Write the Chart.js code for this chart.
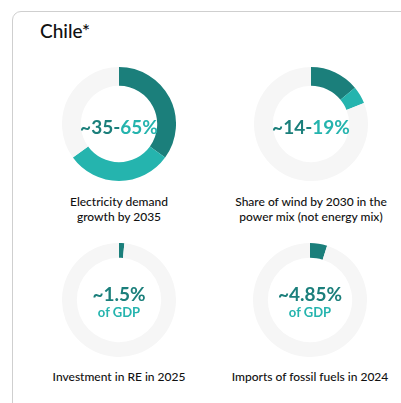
<!DOCTYPE html>
<html><head><meta charset="utf-8">
<script src="https://cdn.jsdelivr.net/npm/chart.js@4"></script>
<style>
html,body{margin:0;padding:0;background:#fff;width:401px;height:403px;overflow:hidden;font-family:Lato,"Open Sans",sans-serif;}
.card{position:absolute;left:12px;top:11px;width:420px;height:420px;border:1px solid #cfcfcf;border-radius:9px;box-sizing:border-box;}
.title{position:absolute;left:40px;top:19px;font-size:19px;color:#111;font-weight:500;}
canvas{position:absolute;}
.center{position:absolute;width:120px;text-align:center;font-weight:700;line-height:1;}
.big{font-size:19px;}
.sub{font-size:13px;color:#25b4ae;margin-top:3px;}
.dark{color:#1b7f7b;} .light{color:#25b4ae;}
.label{position:absolute;width:190px;text-align:center;font-size:12px;color:#111;line-height:15px;font-weight:500;}
</style></head>
<body>
<div class="card"></div>
<div class="title">Chile*</div>
<script>
const categories = ["Electricity demand\ngrowth by 2035", "Share of wind by 2030 in the\npower mix (not energy mix)", "Investment in RE in 2025", "Imports of fossil fuels in 2024"];
const lowValues = [35, 14, 1.5, 4.85];
const highValues = [65, 19, null, null];
const lowLabels = ["~35-", "~14-", "~1.5%", "~4.85%"];
const highLabels = ["65%", "19%", "", ""];
const subLabels = ["", "", "of GDP", "of GDP"];

const centers = [[119,124],[311,124],[119,300],[310,300]];
const cutouts = ['67%','67%','74%','74%'];
const labelY = [194, 194, 369, 369];
const R = 57;
centers.forEach((c, i) => {
  const cv = document.createElement('canvas');
  cv.width = 2*R; cv.height = 2*R;
  cv.style.left = (c[0]-R)+'px'; cv.style.top = (c[1]-R)+'px';
  document.body.appendChild(cv);
  const lo = lowValues[i], hi = highValues[i];
  const data = hi == null ? [lo, 100-lo] : [lo, hi-lo, 100-hi];
  const colors = hi == null ? ['#1b7f7b','#f6f6f6'] : ['#1b7f7b','#25b4ae','#f6f6f6'];
  new Chart(cv, {
    type:'doughnut',
    data:{datasets:[{data, backgroundColor:colors, borderWidth:0, hoverOffset:0}]},
    options:{responsive:false, animation:false, cutout:cutouts[i], layout:{padding:0},
      plugins:{legend:{display:false}, tooltip:{enabled:false}}}
  });
  const t = document.createElement('div');
  t.className='center';
  t.style.left=(c[0]-60)+'px';
  const hasSub = subLabels[i] !== "";
  t.style.top = (c[1] - (hasSub ? 16 : 7)) + 'px';
  t.innerHTML = '<div class="big"><span class="dark">'+lowLabels[i]+'</span><span class="light">'+highLabels[i]+'</span></div>' + (hasSub ? '<div class="sub">'+subLabels[i]+'</div>' : '');
  document.body.appendChild(t);
  const l = document.createElement('div');
  l.className='label';
  l.style.left=(c[0]-95)+'px'; l.style.top=labelY[i]+'px';
  l.innerText = categories[i];
  document.body.appendChild(l);
});
</script>
</body></html>
